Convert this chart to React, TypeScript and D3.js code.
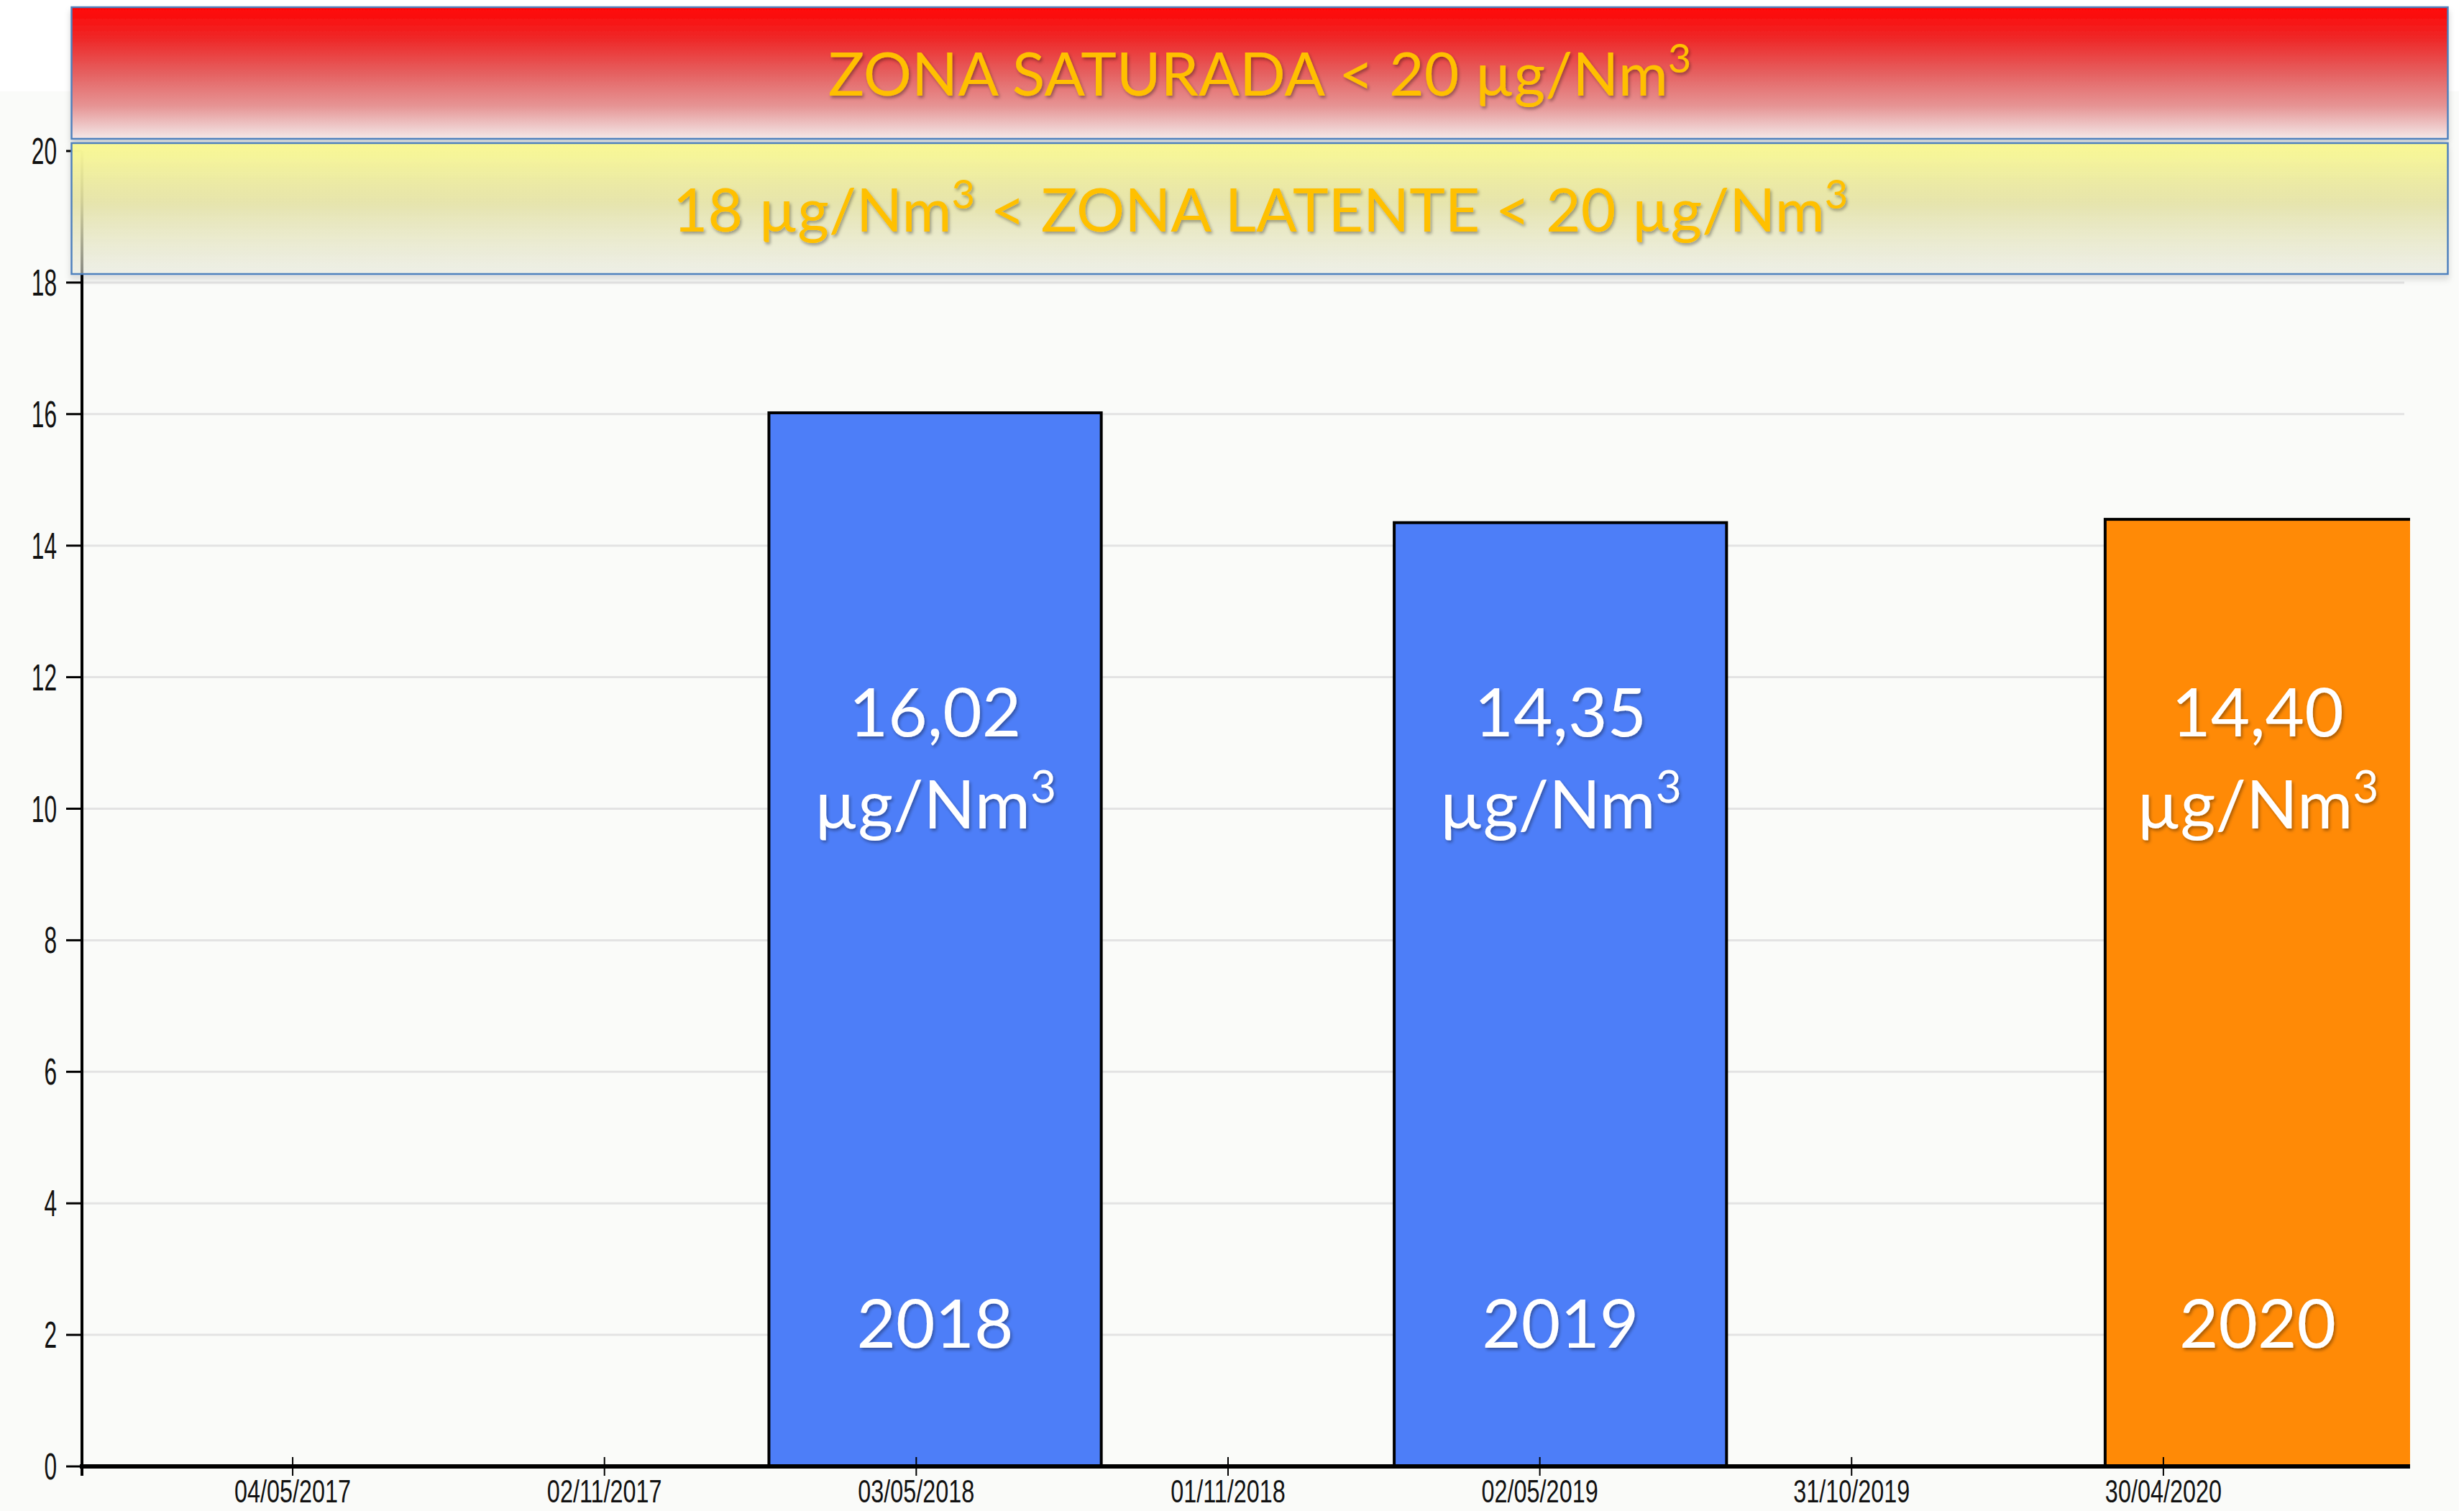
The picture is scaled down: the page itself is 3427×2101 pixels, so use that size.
import React from 'react';
import * as d3 from 'd3';

// ---------- data ----------
const yTickValues = [0, 2, 4, 6, 8, 10, 12, 14, 16, 18, 20];
const xTickLabels = ['04/05/2017', '02/11/2017', '03/05/2018', '01/11/2018', '02/05/2019', '31/10/2019', '30/04/2020'];
const xDomainLabels = ['01/01/2017', '21/09/2020'];
const years = ['2018', '2019', '2020'];
const values = [16.02, 14.35, 14.4];
const barStart = ['06/02/2018', '06/02/2019', '27/03/2020'];
const barEnd = ['19/08/2018', '19/08/2019', '08/10/2020'];
const barColors = ['#4D7EF8', '#4D7EF8', '#FF8A06'];
const valueLabels = ['16,02', '14,35', '14,40'];
const unitLabel = 'µg/Nm';
const zoneTop = 'ZONA SATURADA < 20 µg/Nm';
const zoneMid = ['18 µg/Nm', ' < ZONA LATENTE < 20 µg/Nm'];

const parse = d3.timeParse('%d/%m/%Y');

export default function App() {
  const W = 3427;
  const H = 2101;
  const x0 = 114;
  const x1 = 3352;
  const yBase = 2039;
  const yTop = 210;

  const x = d3
    .scaleTime()
    .domain(xDomainLabels.map((s) => parse(s) as Date))
    .range([x0, x1]);
  const y = d3.scaleLinear().domain([0, 20]).range([yBase, yTop]);

  const bars = years.map((yr, i) => {
    const xs = x(parse(barStart[i]) as Date);
    const xe = x(parse(barEnd[i]) as Date);
    return { yr, v: values[i], xs, xe, color: barColors[i], label: valueLabels[i] };
  });

  const condensedFont = '"Liberation Sans", Arial, sans-serif';
  const labelFont = 'Lato, "Open Sans", sans-serif';

  return (
    <svg width={W} height={H} style={{ position: 'absolute', left: 0, top: 0 }} xmlns="http://www.w3.org/2000/svg">
      <defs>
        <linearGradient id="redGrad" x1="0" y1="0" x2="0" y2="1">
          <stop offset="0" stopColor="#FF0404" />
          <stop offset="0.25" stopColor="#EE2A2A" />
          <stop offset="0.5" stopColor="#E56060" />
          <stop offset="0.75" stopColor="#E69494" />
          <stop offset="1" stopColor="#F3E8E8" />
        </linearGradient>
        <linearGradient id="yellowGrad" x1="0" y1="0" x2="0" y2="1">
          <stop offset="0" stopColor="#FAF994" stopOpacity="1" />
          <stop offset="0.45" stopColor="#E6E4A6" stopOpacity="0.9" />
          <stop offset="1" stopColor="#EEF0E2" stopOpacity="0.55" />
        </linearGradient>
        <filter id="txtShadow" x="-10%" y="-20%" width="120%" height="150%">
          <feDropShadow dx="2" dy="3" stdDeviation="2" floodColor="#000" floodOpacity="0.35" />
        </filter>
        <filter id="bannerShadow" x="-2%" y="-10%" width="104%" height="130%">
          <feDropShadow dx="0" dy="6" stdDeviation="4" floodColor="#000" floodOpacity="0.18" />
        </filter>
        <clipPath id="plotClip">
          <rect x={x0} y={0} width={x1 - x0} height={yBase + 2} />
        </clipPath>
      </defs>

      <rect x={0} y={0} width={W} height={H} fill="#FFFFFF" />
      <rect x={0} y={127} width={3420} height={H - 127} fill="#FAFBF9" />

      {/* gridlines */}
      {yTickValues
        .filter((t) => t > 0)
        .map((t) => (
          <line key={'g' + t} x1={x0} x2={x1 - 8} y1={y(t)} y2={y(t)} stroke="#E3E3E3" strokeWidth={3} />
        ))}

      {/* bars */}
      <g clipPath="url(#plotClip)">
        {bars.map((b) => (
          <rect
            key={b.yr}
            x={b.xs}
            y={y(b.v)}
            width={b.xe - b.xs}
            height={y(0) - y(b.v)}
            fill={b.color}
            stroke="#000"
            strokeWidth={4}
          />
        ))}
      </g>

      {/* y axis */}
      <line x1={x0} x2={x0} y1={y(20)} y2={yBase + 13} stroke="#000" strokeWidth={4} />
      {yTickValues.map((t) => (
        <g key={'yt' + t}>
          <line x1={92} x2={x0} y1={y(t)} y2={y(t)} stroke="#000" strokeWidth={3} />
          <text
            transform={`translate(79,${y(t) + 18}) scale(0.62,1)`}
            textAnchor="end"
            fontFamily={condensedFont}
            fontSize={51}
            fill="#111"
          >
            {t}
          </text>
        </g>
      ))}

      {/* x axis */}
      <line x1={x0 - 3} x2={x1} y1={yBase} y2={yBase} stroke="#000" strokeWidth={6} />
      {xTickLabels.map((s) => {
        const px = x(parse(s) as Date);
        return (
          <g key={s}>
            <line x1={px} x2={px} y1={yBase - 13} y2={yBase + 13} stroke="#000" strokeWidth={2} />
            <text
              transform={`translate(${px},2089) scale(0.72,1)`}
              textAnchor="middle"
              fontFamily={condensedFont}
              fontSize={45}
              fill="#111"
            >
              {s}
            </text>
          </g>
        );
      })}

      {/* bar labels */}
      {bars.map((b) => {
        const cx = (Math.max(b.xs, x0) + Math.min(b.xe, x1)) / 2;
        return (
          <g key={'l' + b.yr} fill="#FFFFFF" fontFamily={labelFont} filter="url(#txtShadow)" textAnchor="middle">
            <text x={cx} y={y(11.1)} fontSize={94}>
              {b.label}
            </text>
            <text x={cx} y={y(9.7)} fontSize={94}>
              {unitLabel}
              <tspan fontSize={62} dy={-36}>3</tspan>
            </text>
            <text x={cx} y={y(1.8)} fontSize={94}>
              {b.yr}
            </text>
          </g>
        );
      })}

      {/* zone banners */}
      <g filter="url(#bannerShadow)">
        <rect x={99.5} y={10} width={3305} height={183} fill="url(#redGrad)" stroke="#4F81BD" strokeWidth={2.5} />
      </g>
      <g filter="url(#bannerShadow)">
        <rect x={99.5} y={199} width={3305} height={182} fill="url(#yellowGrad)" stroke="#4F81BD" strokeWidth={2.5} />
      </g>
      <text
        x={1752}
        y={133}
        textAnchor="middle"
        fontFamily={labelFont}
        fontSize={84}
        fill="#FFC000"
        filter="url(#txtShadow)"
      >
        {zoneTop}
        <tspan fontSize={56} dy={-32}>3</tspan>
      </text>
      <text
        x={1753}
        y={322}
        textAnchor="middle"
        fontFamily={labelFont}
        fontSize={84}
        fill="#FFC000"
        filter="url(#txtShadow)"
      >
        {zoneMid[0]}
        <tspan fontSize={56} dy={-32}>3</tspan>
        <tspan dy={32}>{zoneMid[1]}</tspan>
        <tspan fontSize={56} dy={-32}>3</tspan>
      </text>
    </svg>
  );
}
